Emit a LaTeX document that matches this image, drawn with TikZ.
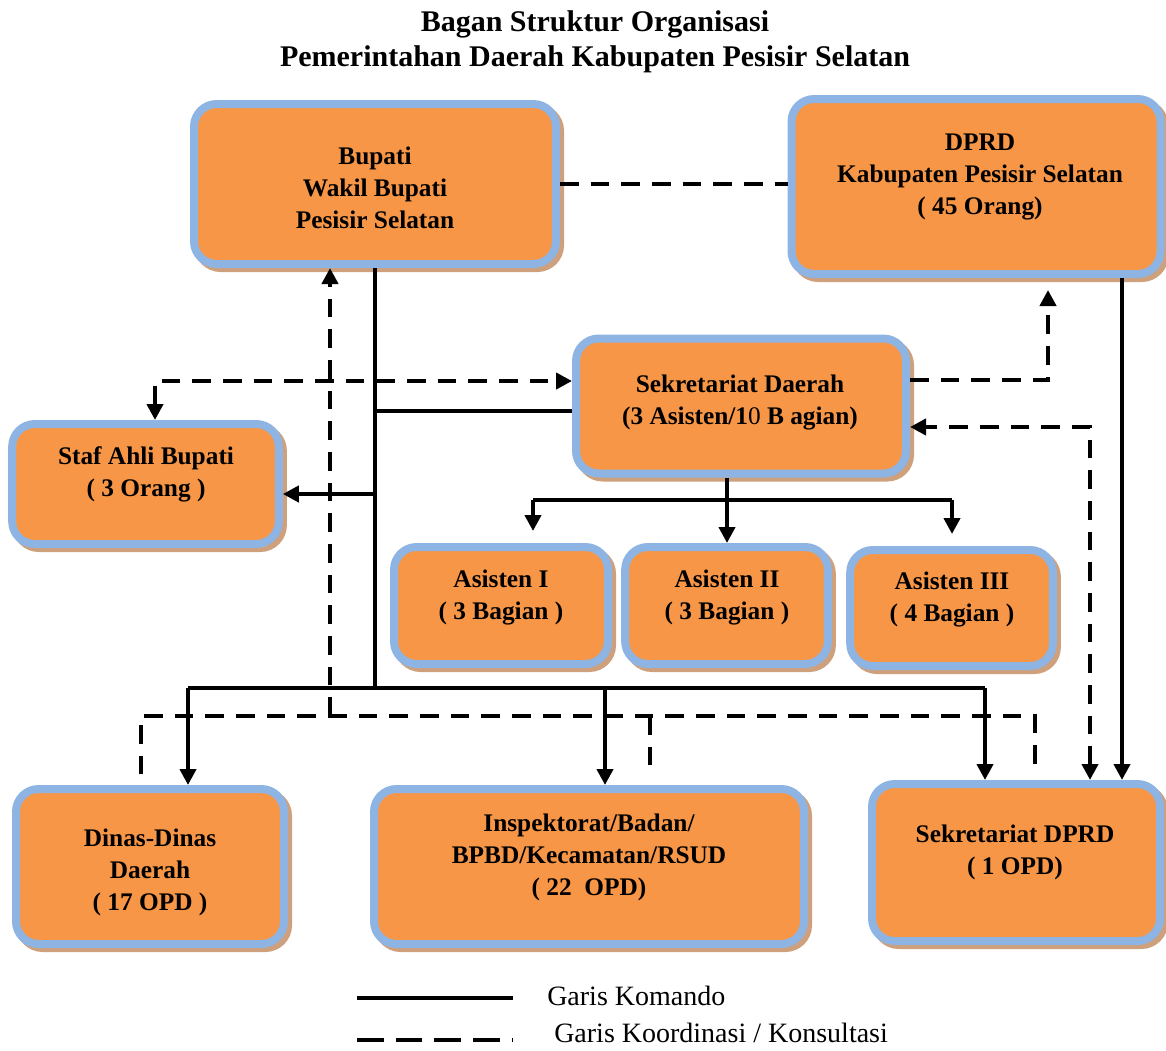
\documentclass[tikz,border=0pt]{standalone}
\usepackage{fontspec}
\setmainfont{Liberation Serif}
\usetikzlibrary{arrows.meta}
\usetikzlibrary{shadows}

\definecolor{boxorange}{RGB}{247,150,70}
\definecolor{boxblue}{RGB}{142,180,227}
\definecolor{shadowtan}{RGB}{206,160,124}

\tikzset{
  orgbox/.style={draw=boxblue, line width=6pt, fill=boxorange, rounded corners=17pt, inner sep=0pt,
    drop shadow={shadow xshift=3pt, shadow yshift=-3pt, fill=shadowtan, draw=shadowtan, line width=6pt, opacity=1}},
  boxtext/.style={font=\bfseries\fontsize{19}{24}\selectfont, align=center, inner sep=0pt},
  legendtext/.style={font=\fontsize{21}{24}\selectfont, inner sep=0pt},
  cmd/.style={line width=3.6pt},
  cmdarrow/.style={cmd, -{Triangle[length=12pt,width=12pt]}},
  coord/.style={line width=3.6pt, dash pattern=on 14pt off 9pt},
  coordarrow/.style={coord, -{Triangle[length=12pt,width=12pt]}},
  coordboth/.style={coord, {Triangle[length=12pt,width=12pt]}-{Triangle[length=12pt,width=12pt]}},
}

\begin{document}
\begin{tikzpicture}[x=0.75pt,y=0.75pt,yscale=-1,xscale=1]
\useasboundingbox (0,0) rectangle (1166,1050);

% Title
\node[font=\bfseries\fontsize{22.5}{26.25}\selectfont, align=center] (title) at (595,42) {Bagan Struktur Organisasi\\Pemerintahan Daerah Kabupaten Pesisir Selatan};

% Boxes
\node[orgbox, minimum width=271.5pt, minimum height=120pt] (bupati) at (375,184) {};
\node[boxtext] (bupati-t) at (375,188) {Bupati\\Wakil Bupati\\Pesisir Selatan};

\node[orgbox, minimum width=276.75pt, minimum height=131.25pt] (dprd) at (976,186.5) {};
\node[boxtext] (dprd-t) at (980,177) {DPRD\\Kabupaten Pesisir Selatan\\( 45 Orang)};

\node[orgbox, minimum width=247.5pt, minimum height=101.25pt] (sekda) at (741,406) {};
\node[boxtext] (sekda-t) at (740,402) {Sekretariat Daerah\\(3 Asisten/1{\mdseries 0} B agian)};

\node[orgbox, minimum width=200pt, minimum height=90pt] (staf) at (145.5,484) {};
\node[boxtext] (staf-t) at (146,474) {Staf Ahli Bupati\\( 3 Orang )};

\node[orgbox, minimum width=160.5pt, minimum height=87.75pt] (as1) at (501,605.5) {};
\node[boxtext] (as1-t) at (501,597) {Asisten I\\( 3 Bagian )};

\node[orgbox, minimum width=152pt, minimum height=87.75pt] (as2) at (726.5,605.5) {};
\node[boxtext] (as2-t) at (727,597) {Asisten II\\( 3 Bagian )};

\node[orgbox, minimum width=152pt, minimum height=87pt] (as3) at (951.5,608) {};
\node[boxtext] (as3-t) at (952,599) {Asisten III\\( 4 Bagian )};

\node[orgbox, minimum width=201pt, minimum height=116.25pt] (dinas) at (150,866.5) {};
\node[boxtext] (dinas-t) at (150,872) {Dinas-Dinas\\Daerah\\( 17 OPD )};

\node[orgbox, minimum width=322.5pt, minimum height=116.25pt] (inspek) at (589,866.5) {};
\node[boxtext] (inspek-t) at (589,857) {Inspektorat/Badan/\\BPBD/Kecamatan/RSUD\\( 22~ OPD)};

\node[orgbox, minimum width=216pt, minimum height=117.75pt] (sekdprd) at (1016,862.5) {};
\node[boxtext] (sekdprd-t) at (1015,852) {Sekretariat DPRD\\( 1 OPD)};

% Garis komando
\coordinate (hub) at (375,688);
\coordinate (busL) at (188,688);
\coordinate (busM) at (605,688);
\coordinate (busR) at (985,688);
\coordinate (tapSek) at (375,411);
\coordinate (tapStaf) at (375,494);
\coordinate (asbus) at (727,500);
\coordinate (asL) at (533,500);
\coordinate (asR) at (952,500);
\coordinate (dprdOut) at ([xshift=109.5pt]dprd.south);

\draw[cmd] (bupati.south) -- (hub);
\draw[cmd] (busL) -- (busR);
\draw[cmdarrow] (busL) -- (busL |- dinas.north);
\draw[cmdarrow] (busM) -- (busM |- inspek.north);
\draw[cmdarrow] (busR) -- (busR |- sekdprd.north);
\draw[cmd] (tapSek) -- (tapSek -| sekda.west);
\draw[cmdarrow] (tapStaf) -- (tapStaf -| staf.east);
\draw[cmd] (sekda.south -| asbus) -- (asbus);
\draw[cmd] (asL) -- (asR);
\draw[cmdarrow, shorten >=9pt] (asL) -- (asL |- as1.north);
\draw[cmdarrow] (asbus) -- (asbus |- as2.north);
\draw[cmdarrow, shorten >=9pt] (asR) -- (asR |- as3.north);
\draw[cmdarrow] (dprdOut) -- (dprdOut |- sekdprd.north);

% Garis koordinasi
\coordinate (stafUp) at (155,381);
\coordinate (upB) at (330,716);
\coordinate (dashL) at (141,716);
\coordinate (dashM) at (650,716);
\coordinate (dashR) at (1035,716);
\coordinate (sekUp) at (1048,380);
\coordinate (sekBack) at (1090,427);

\draw[coord] (bupati.east) -- (bupati.east -| dprd.west);
\draw[coordboth] (stafUp |- staf.north) -- (stafUp) -- (stafUp -| sekda.west);
\draw[coordarrow] (upB) -- (upB |- bupati.south);
\draw[coord, shorten <=8pt] (dashL |- dinas.north) -- (dashL) -- (dashR) -- ([yshift=-7pt]dashR |- sekdprd.north);
\draw[coord, shorten >=8pt] (dashM) -- (dashM |- inspek.north);
\draw[coordarrow, shorten >=9pt] (sekda.east |- sekUp) -- (sekUp) -- (sekUp |- dprd.south);
\draw[coordboth] (sekBack |- sekdprd.north) -- (sekBack) -- (sekBack -| sekda.east);

% Legend
\coordinate (legA1) at (357,998);
\coordinate (legA2) at (513,998);
\coordinate (legB1) at (357,1040);
\coordinate (legB2) at (513,1040);
\draw[cmd] (legA1) -- (legA2);
\draw[line width=3.6pt, dash pattern=on 20pt off 9pt] (legB1) -- (legB2);
\node[legendtext, anchor=west] (leg-cmd) at (547,996) {Garis Komando};
\node[legendtext, anchor=west] (leg-coord) at (554,1033) {Garis Koordinasi / Konsultasi};

\end{tikzpicture}
\end{document}
